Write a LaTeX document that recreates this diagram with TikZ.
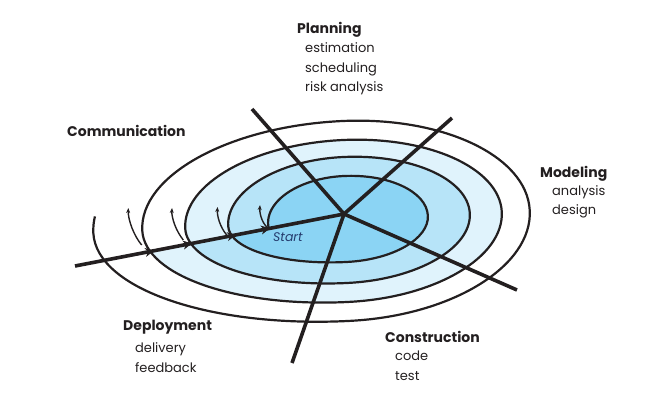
\documentclass[tikz,border=0pt]{standalone}
\usepackage{fontspec}
\setmainfont{Poppins}
\usetikzlibrary{arrows.meta}
\definecolor{ink}{HTML}{231F20}
\definecolor{startblue}{HTML}{253C6E}
\definecolor{bandA}{HTML}{8BD4F4}
\definecolor{bandB}{HTML}{B7E4F8}
\definecolor{bandC}{HTML}{E0F3FC}
\begin{document}
\begin{tikzpicture}[x=1pt,y=-1pt,
  head/.style={font=\fontsize{14}{16}\selectfont\bfseries, text=ink, anchor=base west, inner sep=0pt},
  item/.style={font=\fontsize{13}{15}\selectfont, text=ink, anchor=base west, inner sep=0pt},
  starttext/.style={font=\fontsize{12.5}{14}\selectfont\itshape, text=startblue, anchor=base west, inner sep=0pt},
  spiralline/.style={line width=2.2pt, draw=ink},
  radial/.style={line width=3.6pt, draw=ink},
  turnarrow/.style={line width=1.4pt, draw=ink, -{Stealth[length=5pt,width=4pt]}},
  axisarrow/.style={line width=0.6pt, draw=ink, -{Stealth[length=9pt,width=9pt]}},
]
\useasboundingbox (0,0) rectangle (651,413);

% spiral (in a frame centred on the spiral, y up, slightly rotated)
\begin{scope}[shift={(345,220)}, y=1pt, rotate=3]
  \fill[bandC] (194.2:160 and 63) arc[start angle=194.2, end angle=180, x radius=160, y radius=63]
    arc[start angle=180, end angle=90, x radius=160, y radius=80]
    arc[start angle=90, end angle=0, x radius=157, y radius=80]
    arc[start angle=0, end angle=-90, x radius=157, y radius=82]
    arc[start angle=-90, end angle=-165, x radius=203, y radius=82] -- cycle;
  \fill[bandB] (193.4:117 and 42) arc[start angle=193.4, end angle=180, x radius=117, y radius=42]
    arc[start angle=180, end angle=90, x radius=117, y radius=63]
    arc[start angle=90, end angle=0, x radius=125, y radius=63]
    arc[start angle=0, end angle=-90, x radius=125, y radius=63]
    arc[start angle=-90, end angle=-165.8, x radius=160, y radius=63] -- cycle;
  \fill[bandA] (186:77 and 44) arc[start angle=186, end angle=90, x radius=77, y radius=44]
    arc[start angle=90, end angle=0, x radius=83, y radius=44]
    arc[start angle=0, end angle=-90, x radius=83, y radius=42]
    arc[start angle=-90, end angle=-166.6, x radius=117, y radius=42] -- cycle;
  \draw[spiralline] (186:77 and 44) arc[start angle=186, end angle=90, x radius=77, y radius=44]
    arc[start angle=90, end angle=0, x radius=83, y radius=44]
    arc[start angle=0, end angle=-90, x radius=83, y radius=42]
    arc[start angle=-90, end angle=-180, x radius=117, y radius=42]
    arc[start angle=180, end angle=90, x radius=117, y radius=63]
    arc[start angle=90, end angle=0, x radius=125, y radius=63]
    arc[start angle=0, end angle=-90, x radius=125, y radius=63]
    arc[start angle=-90, end angle=-180, x radius=160, y radius=63]
    arc[start angle=180, end angle=90, x radius=160, y radius=80]
    arc[start angle=90, end angle=0, x radius=157, y radius=80]
    arc[start angle=0, end angle=-90, x radius=157, y radius=82]
    arc[start angle=-90, end angle=-180, x radius=203, y radius=82]
    arc[start angle=180, end angle=90, x radius=203, y radius=99]
    arc[start angle=90, end angle=0, x radius=185, y radius=99]
    arc[start angle=0, end angle=-90, x radius=185, y radius=101]
    arc[start angle=-90, end angle=-180, x radius=252, y radius=101]
    arc[start angle=180, end angle=172, x radius=252, y radius=120];
\end{scope}

% radial lines
\coordinate (ctr) at (344,214);
\coordinate (sl) at (75,266);
\coordinate (p1) at (252,109);
\coordinate (p2) at (452,118);
\coordinate (p3) at (517,290);
\coordinate (p4) at (292,363);
\draw[radial] (ctr) -- (p1);
\draw[radial] (ctr) -- (p2);
\draw[radial] (ctr) -- (p3);
\draw[radial] (ctr) -- (p4);
\draw[radial] (sl) -- (ctr);

% arrowheads along the start axis
\path (sl) -- (ctr)
  coordinate[pos=0.26] (h1a) coordinate[pos=0.294] (h1b)
  coordinate[pos=0.40] (h2a) coordinate[pos=0.435] (h2b)
  coordinate[pos=0.565] (h3a) coordinate[pos=0.599] (h3b)
  coordinate[pos=0.69] (h4a) coordinate[pos=0.725] (h4b);
\draw[axisarrow] (h1a) -- (h1b);
\draw[axisarrow] (h2a) -- (h2b);
\draw[axisarrow] (h3a) -- (h3b);
\draw[axisarrow] (h4a) -- (h4b);

% small turning arrows
\coordinate (a0) at (141.7,245); \coordinate (a1) at (128.3,208);
\coordinate (b0) at (183.3,240); \coordinate (b1) at (172,208);
\coordinate (c0) at (226.7,235); \coordinate (c1) at (217.5,207);
\coordinate (d0) at (266.7,227); \coordinate (d1) at (260,205);
\draw[turnarrow] (a0) .. controls (134,236) and (128,220) .. (a1);
\draw[turnarrow] (b0) .. controls (176,231) and (171.5,218) .. (b1);
\draw[turnarrow] (c0) .. controls (220,227) and (217,216) .. (c1);
\draw[turnarrow] (d0) .. controls (261,221) and (259.5,212) .. (d1);

\node[starttext] (start) at (273,241.5) {Start};

% labels
\node[head] (plan) at (297,33) {Planning};
\node[item] (est) at (305,52) {estimation};
\node[item] (sch) at (305,72) {scheduling};
\node[item] (risk) at (305,91) {risk analysis};
\node[head] (comm) at (67,136) {Communication};
\node[head] (mod) at (540,177) {Modeling};
\node[item] (ana) at (552,195) {analysis};
\node[item] (des) at (552,214) {design};
\node[head] (dep) at (123,330) {Deployment};
\node[item] (del) at (135,352) {delivery};
\node[item] (fb) at (135,372) {feedback};
\node[head] (con) at (385,342) {Construction};
\node[item] (code) at (395,360) {code};
\node[item] (test) at (395,380) {test};
\end{tikzpicture}
\end{document}
